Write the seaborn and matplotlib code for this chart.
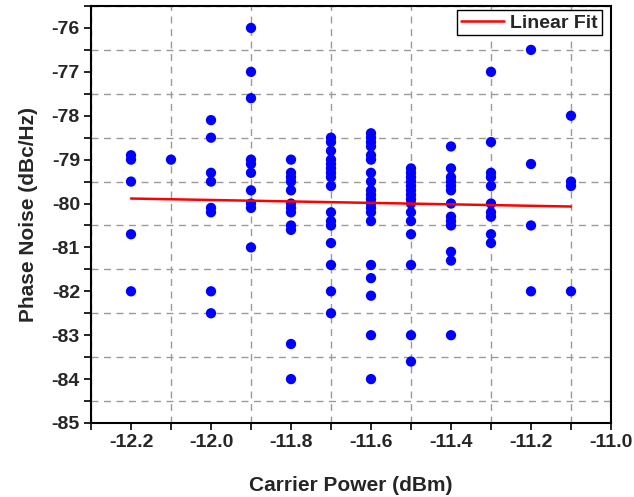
import numpy as np
import pandas as pd
import matplotlib
matplotlib.use("Agg")
import matplotlib.pyplot as plt
from matplotlib.ticker import MultipleLocator
import seaborn as sns

# Carrier power levels (dBm) and measured phase noise (dBc/Hz) at each level
power_levels = [-12.2, -12.1, -12.0, -11.9, -11.8, -11.7, -11.6, -11.5, -11.4, -11.3, -11.2, -11.1]
noise_m122 = [-78.9, -79.0, -79.5, -80.7, -82.0]
noise_m121 = [-79.0]
noise_m120 = [-78.1, -78.5, -79.3, -79.5, -80.1, -80.2, -82.0, -82.5]
noise_m119 = [-76.0, -77.0, -77.6, -79.0, -79.1, -79.3, -79.7, -80.0, -80.1, -81.0]
noise_m118 = [-79.0, -79.3, -79.4, -79.5, -79.7, -80.0, -80.1, -80.2, -80.5, -80.6, -83.2, -84.0]
noise_m117 = [-78.5, -78.6, -78.8, -79.0, -79.1, -79.2, -79.3, -79.4, -79.6,
              -80.2, -80.4, -80.5, -80.9, -81.4, -82.0, -82.5]
noise_m116 = [-78.4, -78.5, -78.6, -78.7, -78.9, -79.0, -79.3, -79.5, -79.7, -79.8,
              -79.9, -80.0, -80.1, -80.2, -80.4, -81.4, -81.7, -82.1, -83.0, -84.0]
noise_m115 = [-79.2, -79.3, -79.4, -79.5, -79.6, -79.7, -79.8, -79.9, -80.0,
              -80.2, -80.4, -80.7, -81.4, -83.0, -83.6]
noise_m114 = [-78.7, -79.2, -79.4, -79.5, -79.6, -79.7, -80.0, -80.3, -80.4, -80.5,
              -81.1, -81.3, -83.0]
noise_m113 = [-77.0, -78.6, -79.3, -79.4, -79.6, -80.0, -80.2, -80.3, -80.7, -80.9]
noise_m112 = [-76.5, -79.1, -80.5, -82.0]
noise_m111 = [-78.0, -79.5, -79.6, -82.0]

noise_by_level = [noise_m122, noise_m121, noise_m120, noise_m119, noise_m118, noise_m117,
                  noise_m116, noise_m115, noise_m114, noise_m113, noise_m112, noise_m111]

xlabels = ["-12.2", "-12.0", "-11.8", "-11.6", "-11.4", "-11.2", "-11.0"]
ylabels = ["-85", "-84", "-83", "-82", "-81", "-80", "-79", "-78", "-77", "-76"]

df = pd.DataFrame({
    "power": [p for p, vals in zip(power_levels, noise_by_level) for _ in vals],
    "noise": [v for vals in noise_by_level for v in vals],
})

sns.set_theme(style="white")
plt.rcParams["font.family"] = ["Liberation Sans", "DejaVu Sans"]
plt.rcParams["font.weight"] = "bold"

fig = plt.figure(figsize=(6.34, 4.97), dpi=100)
ax = fig.add_axes([91 / 634, 1 - 423 / 497, 520 / 634, 417 / 497])

sns.scatterplot(data=df, x="power", y="noise", ax=ax, color="#0000ff",
                s=55, edgecolor="none", linewidth=0, zorder=3, legend=False)
sns.regplot(data=df, x="power", y="noise", ax=ax, scatter=False, ci=None,
            color="red", label="Linear Fit", line_kws={"lw": 1.8, "zorder": 4})

ax.set_xlim(-12.3, -11.0)
ax.set_ylim(-85, -75.5)

ax.xaxis.set_minor_locator(MultipleLocator(0.1))
ax.yaxis.set_minor_locator(MultipleLocator(0.5))
ax.set_xticks([float(t) for t in xlabels])
ax.set_xticklabels(xlabels)
ax.set_yticks([float(t) for t in ylabels])
ax.set_yticklabels(ylabels)

ax.grid(which="minor", color="#9a9a9a", linestyle=(0, (5, 4)), linewidth=1.0)
ax.grid(which="major", visible=False)

ax.tick_params(axis="both", which="both", direction="out", length=5, width=1.2,
               color="black", labelsize=14, left=True, bottom=True)
ax.tick_params(axis="both", which="major", pad=3)
for lab in ax.get_xticklabels() + ax.get_yticklabels():
    lab.set_fontweight("bold")

for sp in ax.spines.values():
    sp.set_color("black")
    sp.set_linewidth(1.5)
    sp.set_visible(True)

ax.set_xlabel("Carrier Power (dBm)", fontsize=15, fontweight="bold", labelpad=18)
ax.set_ylabel("Phase Noise (dBc/Hz)", fontsize=15, fontweight="bold", labelpad=10)

leg = ax.legend(loc="upper right", bbox_to_anchor=(602 / 634, 1 - 10 / 497),
                bbox_transform=fig.transFigure, borderaxespad=0.0,
                frameon=True, fancybox=False, handlelength=2.2, handletextpad=0.35,
                borderpad=0.2, prop={"weight": "bold", "size": 14})
leg.get_frame().set_edgecolor("black")
leg.get_frame().set_linewidth(1.0)
leg.get_frame().set_alpha(1.0)

fig.savefig("out.png", dpi=100)
